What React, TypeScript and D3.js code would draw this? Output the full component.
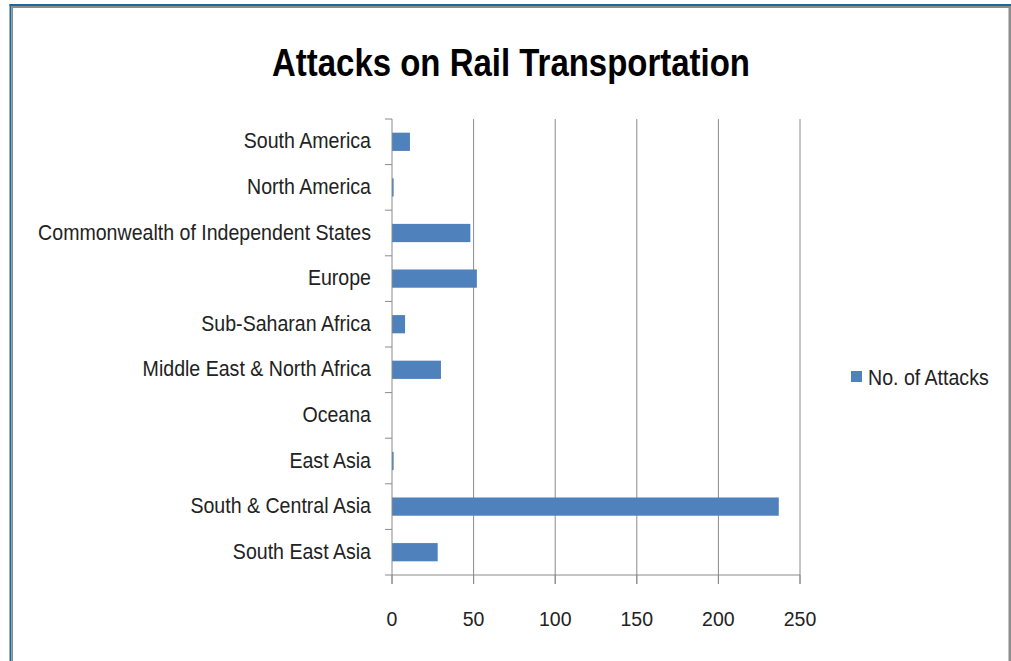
import React from "react";
import * as d3 from "d3";

const categories = [
  "South America",
  "North America",
  "Commonwealth of Independent States",
  "Europe",
  "Sub-Saharan Africa",
  "Middle East & North Africa",
  "Oceana",
  "East Asia",
  "South & Central Asia",
  "South East Asia",
];
const attacks = [11, 1, 48, 52, 8, 30, 0, 1, 237, 28];
const xTicks = [0, 50, 100, 150, 200, 250];
const seriesName = "No. of Attacks";
const title = "Attacks on Rail Transportation";

const W = 1011;
const H = 661;
const FONT = "'Liberation Sans', Arial, sans-serif";
const SX = 0.89;

export default function App() {
  const left = 392, right = 800, top = 119, bottom = 575;
  const x = d3.scaleLinear().domain([0, 250]).range([left, right]);
  const y = d3.scaleBand<string>().domain(categories).range([top, bottom]).paddingInner(0.6).paddingOuter(0.3);
  const band = d3.scaleBand<string>().domain(categories).range([top, bottom]);
  const gray = "#8a8a8a";
  return (
    <svg width={W} height={H} style={{ position: "absolute", left: 0, top: 0, background: "#fff" }}>
      <rect x={0} y={0} width={W} height={H} fill="#fff" />
      {/* frame */}
      <rect x={9.5} y={4} width={W - 9.5} height={2} fill="#1a6aa0" />
      <rect x={9.5} y={4} width={2} height={H - 4} fill="#1a6aa0" />
      <rect x={11.5} y={6} width={W - 11.5} height={2} fill="#8c8c8c" />
      <rect x={11.5} y={6} width={1.5} height={H - 6} fill="#8c8c8c" />
      <rect x={1008.5} y={6} width={2.5} height={H - 6} fill="#8c8c8c" />

      <text x={511} y={76} textAnchor="middle" fontFamily={FONT} fontWeight="bold" fontSize={38}
        textLength={478} lengthAdjust="spacingAndGlyphs" fill="#000">{title}</text>

      {/* gridlines */}
      {xTicks.slice(1).map((t) => (
        <line key={t} x1={x(t)} x2={x(t)} y1={top} y2={bottom + 9} stroke={gray} strokeWidth={1} />
      ))}
      {/* bars */}
      {categories.map((c, i) => (
        <rect key={c} x={x(0)} y={y(c)!} width={x(attacks[i]) - x(0)} height={y.bandwidth()} fill="#4f81bd" />
      ))}
      {/* y axis */}
      <line x1={left} x2={left} y1={top} y2={bottom + 9} stroke={gray} strokeWidth={1} />
      {categories.map((c) => (
        <line key={c} x1={left - 7} x2={left} y1={band(c)!} y2={band(c)!} stroke={gray} strokeWidth={1} />
      ))}
      <line x1={left - 7} x2={right} y1={bottom} y2={bottom} stroke={gray} strokeWidth={1} />
      {xTicks.map((t) => (
        <line key={t} x1={x(t)} x2={x(t)} y1={bottom} y2={bottom + 9} stroke={gray} strokeWidth={1} />
      ))}
      {categories.map((c) => (
        <g key={c} transform={`translate(371,${band(c)! + band.bandwidth() / 2 + 6.5}) scale(${SX},1)`}>
          <text x={0} y={0} textAnchor="end" fontFamily={FONT} fontSize={22} fill="#222">{c}</text>
        </g>
      ))}
      {xTicks.map((t) => (
        <g key={t} transform={`translate(${x(t)},626) scale(0.93,1)`}>
          <text x={0} y={0} textAnchor="middle" fontFamily={FONT} fontSize={21} fill="#222">{t}</text>
        </g>
      ))}
      {/* legend */}
      <rect x={851} y={371} width={11} height={11} fill="#4f81bd" />
      <g transform={`translate(868,385) scale(${SX},1)`}>
        <text x={0} y={0} fontFamily={FONT} fontSize={22} fill="#222">{seriesName}</text>
      </g>
    </svg>
  );
}
